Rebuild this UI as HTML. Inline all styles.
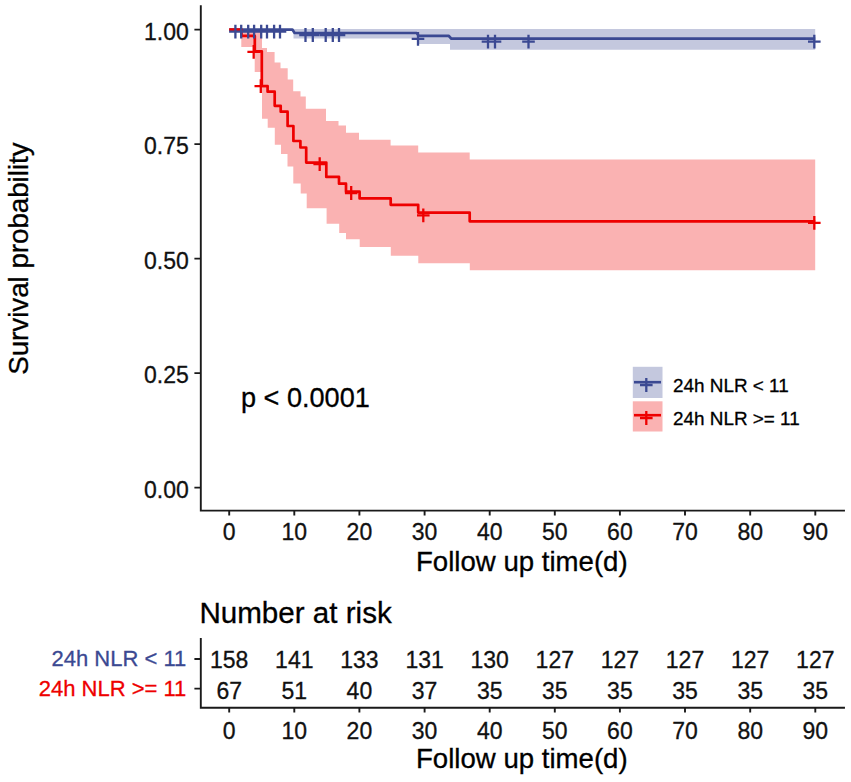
<!DOCTYPE html>
<html lang="en"><head><meta charset="utf-8"><title>Kaplan-Meier survival: 24h NLR</title>
<style>html,body{margin:0;padding:0;background:#fff}body{width:851px;height:782px;overflow:hidden}</style>
</head><body>
<svg width="851" height="782" viewBox="0 0 851 782" style="display:block;font-family:'Liberation Sans',Arial,sans-serif" >
<rect width="851" height="782" fill="#fff"/>
<path d="M241.3,29.6H262V48H267V52.1H274.6V62.4H280.5V68.2H287.7V79.5H293.2V91.2H300.5V96.4H305.8V108.8H326V121.1H338.5V125.6H346V132.7H359V139.8H390.6V145.5H418.2V152.6H469.7V159.4H815.2V270.3H469.8V263.3H418.3V255.8H390.8V247H359.7V239.2H346V232.9H339.2V223.7H326.6V208.2H306.7V193.4H300.7V183.5H293.3V166.5H287.5V153.9H281V144.7H274.8V127.8H267.7V118.8H262V72H254.7V47H241.3Z" fill="#FAB2B2"/>
<path d="M293.5,29.1H815.2V49.7H450V44H418V38.4H293.5Z" fill="#C4C8DE" />
<path d="M229.2,29.6H292.4L294.6,33H416.6L418.8,35.8H448.6L451.4,38.7H815.2" stroke="#3B4992" stroke-width="2.7" fill="none" stroke-linejoin="round"/>
<path d="M229.2,29.6H241.5V35.9H254.8V51.3H261.8V86H267.6V91.7H274.7V105.8H280.7V111.7H287.6V126H293.4V141H300.4V147.5H306.2V162.6H326.3V176.9H339V183.7H346V191.7H359.6V198.4H390.7V204.8H418.2V212.6H469.7V221.3H815.2" stroke="#EE0000" stroke-width="2.7" fill="none" stroke-linejoin="round"/>
<path d="M229.1,31.7H241.7M235.4,24.8V38.6M234.9,31.7H247.5M241.2,24.8V38.6M241.9,31.7H254.5M248.2,24.8V38.6M247.8,31.7H260.4M254.1,24.8V38.6M254.9,31.7H267.5M261.2,24.8V38.6M260.7,31.7H273.3M267,24.8V38.6M267.8,31.7H280.4M274.1,24.8V38.6M273.7,31.7H286.3M280,24.8V38.6M299.2,35H311.8M305.5,28.1V41.9M306.5,35H319.1M312.8,28.1V41.9M319.4,35H332.0M325.7,28.1V41.9M326.5,35H339.1M332.8,28.1V41.9M332.7,35H345.3M339,28.1V41.9M411.7,38.9H424.3M418,32.0V45.8M481.7,41.6H494.3M488,34.7V48.5M488.7,41.6H501.3M495,34.7V48.5M522.2,41.6H534.8M528.5,34.7V48.5M808.0,41.7H820.6M814.3,34.8V48.6" stroke="#3B4992" stroke-width="2.3" fill="none"/>
<path d="M247.4,51.9H260.0M253.7,45.0V58.8M254.5,86.2H267.1M260.8,79.3V93.1M313.4,164.2H326.0M319.7,157.3V171.1M344.9,193H357.5M351.2,186.1V199.9M417.0,215.4H429.6M423.3,208.5V222.3M808.0,222.9H820.6M814.3,216.0V229.8" stroke="#EE0000" stroke-width="2.3" fill="none"/>
<path d="M200.8,6.2V510.6H844" stroke="#1a1a1a" stroke-width="1.9" fill="none" stroke-linecap="square"/>
<path d="M194.4,487.6H200.8M194.4,373.1H200.8M194.4,258.6H200.8M194.4,144.1H200.8M194.4,29.6H200.8M229.2,510.6V515.6M294.3,510.6V515.6M359.4,510.6V515.6M424.6,510.6V515.6M489.7,510.6V515.6M554.8,510.6V515.6M619.9,510.6V515.6M685.0,510.6V515.6M750.2,510.6V515.6M815.3,510.6V515.6" stroke="#1a1a1a" stroke-width="1.9" fill="none"/>
<text x="188.8" y="497.6" font-size="23" stroke="#111" stroke-width="0.3" text-anchor="end" fill="#111">0.00</text>
<text x="188.8" y="383.1" font-size="23" stroke="#111" stroke-width="0.3" text-anchor="end" fill="#111">0.25</text>
<text x="188.8" y="268.6" font-size="23" stroke="#111" stroke-width="0.3" text-anchor="end" fill="#111">0.50</text>
<text x="188.8" y="154.1" font-size="23" stroke="#111" stroke-width="0.3" text-anchor="end" fill="#111">0.75</text>
<text x="188.8" y="39.6" font-size="23" stroke="#111" stroke-width="0.3" text-anchor="end" fill="#111">1.00</text>
<text x="229.2" y="540" font-size="23" stroke="#111" stroke-width="0.3" text-anchor="middle" fill="#111">0</text>
<text x="294.3" y="540" font-size="23" stroke="#111" stroke-width="0.3" text-anchor="middle" fill="#111">10</text>
<text x="359.4" y="540" font-size="23" stroke="#111" stroke-width="0.3" text-anchor="middle" fill="#111">20</text>
<text x="424.6" y="540" font-size="23" stroke="#111" stroke-width="0.3" text-anchor="middle" fill="#111">30</text>
<text x="489.7" y="540" font-size="23" stroke="#111" stroke-width="0.3" text-anchor="middle" fill="#111">40</text>
<text x="554.8" y="540" font-size="23" stroke="#111" stroke-width="0.3" text-anchor="middle" fill="#111">50</text>
<text x="619.9" y="540" font-size="23" stroke="#111" stroke-width="0.3" text-anchor="middle" fill="#111">60</text>
<text x="685.0" y="540" font-size="23" stroke="#111" stroke-width="0.3" text-anchor="middle" fill="#111">70</text>
<text x="750.2" y="540" font-size="23" stroke="#111" stroke-width="0.3" text-anchor="middle" fill="#111">80</text>
<text x="815.3" y="540" font-size="23" stroke="#111" stroke-width="0.3" text-anchor="middle" fill="#111">90</text>
<text x="521.8" y="571.2" font-size="27.6" text-anchor="middle" fill="#000" stroke="#000" stroke-width="0.3">Follow up time(d)</text>
<text transform="translate(27.5,258.6) rotate(-90)" font-size="27.7" text-anchor="middle" fill="#000" stroke="#000" stroke-width="0.3">Survival probability</text>
<text x="241" y="407.4" font-size="27.1" fill="#000" stroke="#000" stroke-width="0.3">p &lt; 0.0001</text>
<rect x="632.8" y="366.8" width="29.7" height="31.2" fill="#C4C8DE"/>
<rect x="632.8" y="401.3" width="29.7" height="30.2" fill="#FAB2B2"/>
<path d="M634,382.2H661" stroke="#3B4992" stroke-width="2.6"/>
<path d="M634,415.2H661" stroke="#EE0000" stroke-width="2.6"/>
<path d="M640.0,385H652.6M646.3,378.1V391.9" stroke="#3B4992" stroke-width="2.3" fill="none"/>
<path d="M640.0,418H652.6M646.3,411.1V424.9" stroke="#EE0000" stroke-width="2.3" fill="none"/>
<text x="673" y="392.2" font-size="18.9" fill="#000" stroke="#000" stroke-width="0.3">24h NLR &lt; 11</text>
<text x="673" y="425.2" font-size="18.9" fill="#000" stroke="#000" stroke-width="0.3">24h NLR &gt;= 11</text>
<text x="199.4" y="623.2" font-size="29.6" fill="#000" stroke="#000" stroke-width="0.3">Number at risk</text>
<path d="M200.8,639V707.7H844" stroke="#1a1a1a" stroke-width="1.9" fill="none" stroke-linecap="square"/>
<path d="M194.4,659H200.8M194.4,688.6H200.8M229.2,707.7V712.6M294.3,707.7V712.6M359.4,707.7V712.6M424.6,707.7V712.6M489.7,707.7V712.6M554.8,707.7V712.6M619.9,707.7V712.6M685.0,707.7V712.6M750.2,707.7V712.6M815.3,707.7V712.6" stroke="#1a1a1a" stroke-width="1.9" fill="none"/>
<text x="229.2" y="667.6" font-size="23" stroke="#111" stroke-width="0.3" text-anchor="middle" fill="#111">158</text>
<text x="229.2" y="698.6" font-size="23" stroke="#111" stroke-width="0.3" text-anchor="middle" fill="#111">67</text>
<text x="229.2" y="738.6" font-size="23" stroke="#111" stroke-width="0.3" text-anchor="middle" fill="#111">0</text>
<text x="294.3" y="667.6" font-size="23" stroke="#111" stroke-width="0.3" text-anchor="middle" fill="#111">141</text>
<text x="294.3" y="698.6" font-size="23" stroke="#111" stroke-width="0.3" text-anchor="middle" fill="#111">51</text>
<text x="294.3" y="738.6" font-size="23" stroke="#111" stroke-width="0.3" text-anchor="middle" fill="#111">10</text>
<text x="359.4" y="667.6" font-size="23" stroke="#111" stroke-width="0.3" text-anchor="middle" fill="#111">133</text>
<text x="359.4" y="698.6" font-size="23" stroke="#111" stroke-width="0.3" text-anchor="middle" fill="#111">40</text>
<text x="359.4" y="738.6" font-size="23" stroke="#111" stroke-width="0.3" text-anchor="middle" fill="#111">20</text>
<text x="424.6" y="667.6" font-size="23" stroke="#111" stroke-width="0.3" text-anchor="middle" fill="#111">131</text>
<text x="424.6" y="698.6" font-size="23" stroke="#111" stroke-width="0.3" text-anchor="middle" fill="#111">37</text>
<text x="424.6" y="738.6" font-size="23" stroke="#111" stroke-width="0.3" text-anchor="middle" fill="#111">30</text>
<text x="489.7" y="667.6" font-size="23" stroke="#111" stroke-width="0.3" text-anchor="middle" fill="#111">130</text>
<text x="489.7" y="698.6" font-size="23" stroke="#111" stroke-width="0.3" text-anchor="middle" fill="#111">35</text>
<text x="489.7" y="738.6" font-size="23" stroke="#111" stroke-width="0.3" text-anchor="middle" fill="#111">40</text>
<text x="554.8" y="667.6" font-size="23" stroke="#111" stroke-width="0.3" text-anchor="middle" fill="#111">127</text>
<text x="554.8" y="698.6" font-size="23" stroke="#111" stroke-width="0.3" text-anchor="middle" fill="#111">35</text>
<text x="554.8" y="738.6" font-size="23" stroke="#111" stroke-width="0.3" text-anchor="middle" fill="#111">50</text>
<text x="619.9" y="667.6" font-size="23" stroke="#111" stroke-width="0.3" text-anchor="middle" fill="#111">127</text>
<text x="619.9" y="698.6" font-size="23" stroke="#111" stroke-width="0.3" text-anchor="middle" fill="#111">35</text>
<text x="619.9" y="738.6" font-size="23" stroke="#111" stroke-width="0.3" text-anchor="middle" fill="#111">60</text>
<text x="685.0" y="667.6" font-size="23" stroke="#111" stroke-width="0.3" text-anchor="middle" fill="#111">127</text>
<text x="685.0" y="698.6" font-size="23" stroke="#111" stroke-width="0.3" text-anchor="middle" fill="#111">35</text>
<text x="685.0" y="738.6" font-size="23" stroke="#111" stroke-width="0.3" text-anchor="middle" fill="#111">70</text>
<text x="750.2" y="667.6" font-size="23" stroke="#111" stroke-width="0.3" text-anchor="middle" fill="#111">127</text>
<text x="750.2" y="698.6" font-size="23" stroke="#111" stroke-width="0.3" text-anchor="middle" fill="#111">35</text>
<text x="750.2" y="738.6" font-size="23" stroke="#111" stroke-width="0.3" text-anchor="middle" fill="#111">80</text>
<text x="815.3" y="667.6" font-size="23" stroke="#111" stroke-width="0.3" text-anchor="middle" fill="#111">127</text>
<text x="815.3" y="698.6" font-size="23" stroke="#111" stroke-width="0.3" text-anchor="middle" fill="#111">35</text>
<text x="815.3" y="738.6" font-size="23" stroke="#111" stroke-width="0.3" text-anchor="middle" fill="#111">90</text>
<text x="186.3" y="665.6" font-size="22" text-anchor="end" fill="#3B4992" stroke="#3B4992" stroke-width="0.3">24h NLR &lt; 11</text>
<text x="186.3" y="695.6" font-size="22" text-anchor="end" fill="#EE0000" stroke="#EE0000" stroke-width="0.3">24h NLR &gt;= 11</text>
<text x="521.8" y="767.7" font-size="27.6" text-anchor="middle" fill="#000" stroke="#000" stroke-width="0.3">Follow up time(d)</text>
</svg>
</body></html>
